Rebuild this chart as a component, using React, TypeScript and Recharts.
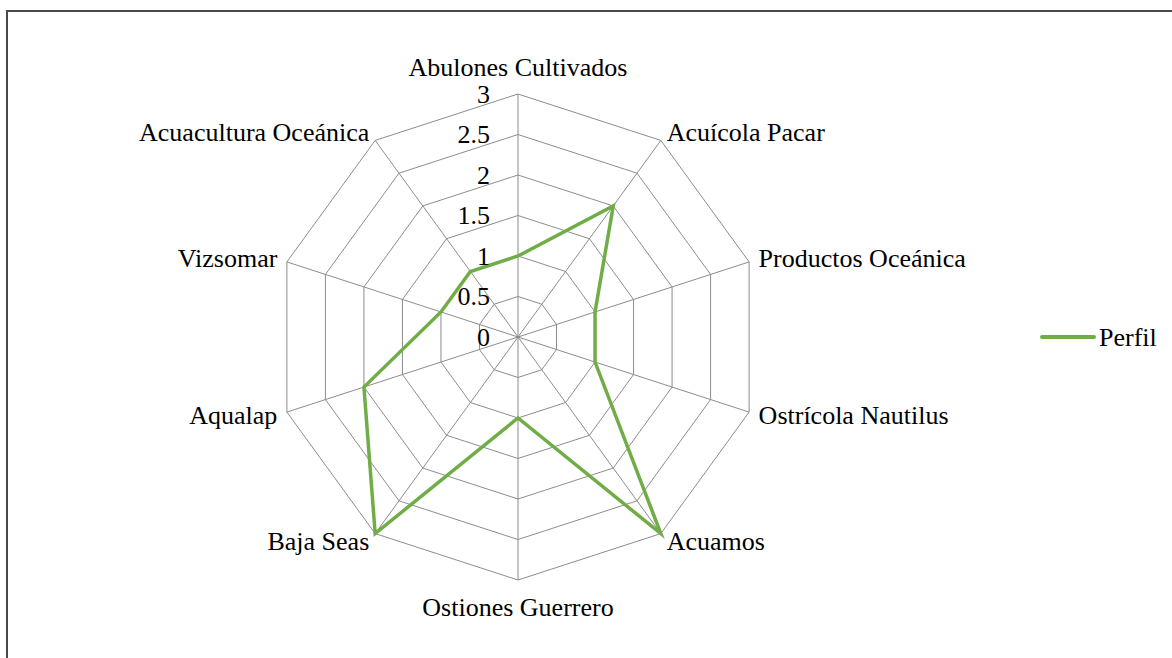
import { RadarChart, PolarGrid, PolarAngleAxis, PolarRadiusAxis, Radar, Legend } from "recharts";

const categories = [
  "Abulones Cultivados",
  "Acuícola Pacar",
  "Productos Oceánica",
  "Ostrícola Nautilus",
  "Acuamos",
  "Ostiones Guerrero",
  "Baja Seas",
  "Aqualap",
  "Vizsomar",
  "Acuacultura Oceánica",
];
const perfil = [1, 2, 1, 1, 3, 1, 3, 2, 1, 1];
const radiusTicks = [0, 0.5, 1, 1.5, 2, 2.5, 3];

const data = categories.map((name, i) => ({ name, Perfil: perfil[i] }));

const textStyle = { fontFamily: "Liberation Serif, Times New Roman, DejaVu Serif, serif", fontSize: 26 };
const CX = 518;
const CY = 337;
const R = 243;
const GREEN = "#70AD47";

// category labels sit just outside each spoke end, like Excel does
const AngleTick = (props: any) => {
  const { payload } = props;
  const deg = payload.coordinate;
  const rad = (deg * Math.PI) / 180;
  const vx = CX + R * Math.cos(rad);
  const vy = CY - R * Math.sin(rad);
  const s = Math.cos(rad);
  const c = Math.sin(rad);
  let x = vx;
  let y = vy;
  let anchor: "start" | "end" | "middle" = "middle";
  if (Math.abs(s) < 0.01) {
    y = vy - c * 27;
  } else {
    anchor = s > 0 ? "start" : "end";
    x = vx + s * 10;
    y = vy - c * 10;
  }
  return (
    <text x={x} y={y} textAnchor={anchor} dominantBaseline="central" style={textStyle} fill="#000">
      {payload.value}
    </text>
  );
};

const RadiusTick = (props: any) => {
  const { x, y, payload } = props;
  return (
    <text x={x - 28} y={y} textAnchor="end" dominantBaseline="central" style={textStyle} fill="#000">
      {payload.value}
    </text>
  );
};

const LegendContent = () => (
  <svg width={130} height={30}>
    <line x1={2} y1={15} x2={54} y2={15} stroke={GREEN} strokeWidth={4} strokeLinecap="round" />
    <text x={59} y={15} dominantBaseline="central" style={textStyle} fill="#000">
      Perfil
    </text>
  </svg>
);

export default function App() {
  return (
    <div style={{ position: "fixed", left: 0, top: 0, width: 1172, height: 658, overflow: "hidden", background: "#fff" }}>
      <div
        style={{
          position: "absolute",
          left: 6,
          top: 10,
          width: 1400,
          height: 900,
          border: "2px solid #4a4a4a",
        }}
      />
      <div style={{ position: "absolute", left: 0, top: 0 }}>
        <RadarChart width={1172} height={658} data={data} cx={CX} cy={CY} outerRadius={R} margin={{ top: 0, right: 0, bottom: 0, left: 0 }}>
          <PolarGrid gridType="polygon" stroke="#8c8c8c" strokeWidth={1} />
          <PolarAngleAxis dataKey="name" tick={AngleTick} tickLine={false} axisLine={false} />
          <PolarRadiusAxis
            angle={90}
            domain={[0, 3]}
            ticks={radiusTicks as any}
            tickCount={7}
            axisLine={false}
            tickLine={false}
            tick={RadiusTick}
          />
          <Radar
            name="Perfil"
            dataKey="Perfil"
            stroke={GREEN}
            strokeWidth={3.5}
            fill="none"
            fillOpacity={0}
            dot={false}
            isAnimationActive={false}
          />
          <Legend content={LegendContent} wrapperStyle={{ left: 1040, top: 322, width: 130 }} />
        </RadarChart>
      </div>
    </div>
  );
}
